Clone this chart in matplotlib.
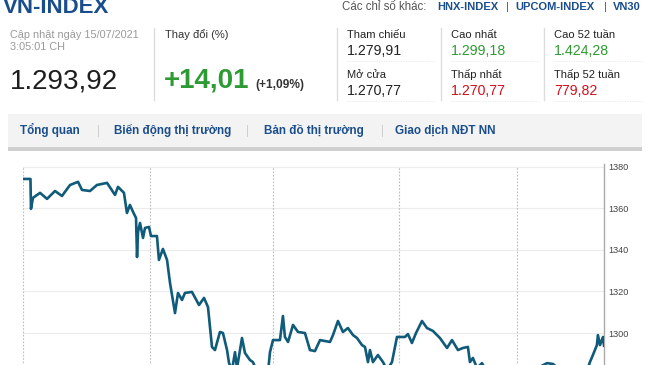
import matplotlib
matplotlib.use("Agg")
import matplotlib.pyplot as plt
from matplotlib.patches import Rectangle
from matplotlib.lines import Line2D

plt.rcParams['font.family'] = ['Liberation Sans', 'DejaVu Sans']

# ---------------- data ----------------
# x = session index (0 = start of first session), y = VN-INDEX points
t = [0.000, 0.060, 0.064, 0.080, 0.137, 0.193, 0.257, 0.313, 0.378, 0.442,
     0.474, 0.538, 0.594, 0.675, 0.739, 0.763, 0.811, 0.835, 0.859, 0.884,
     0.908, 0.916, 0.924, 0.940, 0.964, 0.980, 1.012, 1.028, 1.076, 1.092,
     1.124, 1.157, 1.181, 1.221, 1.245, 1.277, 1.301, 1.357, 1.414, 1.454,
     1.486, 1.518, 1.542, 1.582, 1.606, 1.639, 1.655, 1.679, 1.703, 1.719,
     1.759, 1.783, 1.823, 1.847, 1.880, 1.920, 1.968, 1.984, 2.008, 2.064,
     2.088, 2.104, 2.129, 2.169, 2.209, 2.265, 2.305, 2.345, 2.386, 2.466,
     2.490, 2.530, 2.570, 2.610, 2.651, 2.683, 2.723, 2.747, 2.771, 2.787,
     2.811, 2.851, 2.892, 2.924, 2.964, 2.988, 3.004, 3.068, 3.092, 3.124,
     3.157, 3.205, 3.245, 3.293, 3.349, 3.406, 3.446, 3.494, 3.534, 3.574,
     3.590, 3.614, 3.647, 3.687, 3.727, 3.831, 3.952, 4.072, 4.209, 4.257,
     4.313, 4.434, 4.538, 4.554, 4.578, 4.610, 4.618, 4.635, 4.659, 4.667]

index_values = [
    1374.2, 1374.2, 1359.8, 1365.1, 1367.5, 1364.6, 1368.4, 1366.0, 1371.3, 1372.8,
    1368.9, 1368.4, 1371.3, 1372.3, 1366.5, 1370.4, 1367.5, 1357.8, 1361.7, 1358.3,
    1355.4, 1336.6, 1348.7, 1353.0, 1345.8, 1350.6, 1351.1, 1346.7, 1346.7, 1335.2,
    1340.5, 1335.2, 1324.1, 1309.6, 1319.3, 1315.9, 1319.3, 1319.8, 1313.5, 1316.9,
    1312.5, 1293.3, 1291.8, 1300.5, 1300.0, 1291.8, 1285.5, 1282.2, 1290.8, 1283.1,
    1297.6, 1290.4, 1287.0, 1286.0, 1281.2, 1279.8, 1281.2, 1290.8, 1296.6, 1296.6,
    1308.2, 1298.1, 1295.7, 1303.9, 1300.5, 1300.0, 1291.8, 1291.3, 1296.6, 1295.7,
    1299.0, 1305.8, 1300.5, 1302.4, 1299.0, 1297.6, 1294.2, 1293.3, 1286.0, 1291.8,
    1286.0, 1289.4, 1286.0, 1282.2, 1286.0, 1293.3, 1298.1, 1298.1, 1299.5, 1295.2,
    1300.0, 1305.8, 1302.4, 1301.0, 1297.6, 1292.8, 1296.6, 1291.8, 1292.8, 1293.3,
    1286.0, 1288.0, 1283.1, 1285.5, 1281.2, 1278.3, 1279.8, 1281.2, 1285.5, 1285.1,
    1282.2, 1281.2, 1283.1, 1286.0, 1289.4, 1294.2, 1299.0, 1294.2, 1298.1, 1293.9]

session_starts = [0, 1.02, 2.01, 3.02, 3.97]
y_ticks = [1300, 1320, 1340, 1360, 1380]

stat_labels = [["Tham chiếu", "Mở cửa"], ["Cao nhất", "Thấp nhất"], ["Cao 52 tuần", "Thấp 52 tuần"]]
stat_values = [["1.279,91", "1.270,77"], ["1.299,18", "1.270,77"], ["1.424,28", "779,82"]]
stat_colors = [["#222222", "#222222"], ["#2e9a33", "#d0101b"], ["#2e9a33", "#d0101b"]]
nav_items = ["Tổng quan", "Biến động thị trường", "Bản đồ thị trường", "Giao dịch NĐT NN"]

BLUE = "#1a4d8c"
GREEN = "#2e9a33"
LINE = "#105a7a"

W, H = 650, 365
fig = plt.figure(figsize=(W / 100, H / 100), dpi=100)
fig.patch.set_facecolor("white")


def px(x, y):
    # pixel position (from top-left) -> figure fraction
    return x / W, 1 - y / H


def txt(x, y, s, **kw):
    fx, fy = px(x, y)
    fig.text(fx, fy, s, va="baseline", **kw)


def hline(x0, x1, y, **kw):
    fig.add_artist(Line2D([x0 / W, x1 / W], [1 - y / H, 1 - y / H], transform=fig.transFigure, **kw))


def vline(x, y0, y1, **kw):
    fig.add_artist(Line2D([x / W, x / W], [1 - y0 / H, 1 - y1 / H], transform=fig.transFigure, **kw))


# ---------------- header ----------------
# title is cut at the top edge in the original screenshot
txt(3, 13, "VN-INDEX", fontsize=16, fontweight="bold", color=BLUE)
txt(342, 10, "Các chỉ số khác:", fontsize=8.3, color="#555555")
txt(437, 10, "HNX-INDEX", fontsize=8, fontweight="bold", color=BLUE)
txt(506, 10, "|", fontsize=8, color="#555555")
txt(515, 10, "UPCOM-INDEX", fontsize=8, fontweight="bold", color=BLUE)
txt(604, 10, "|", fontsize=8, color="#555555")
txt(613, 10, "VN30", fontsize=8, fontweight="bold", color=BLUE)

txt(10, 38, "Cập nhật ngày 15/07/2021", fontsize=7.8, color="#9a9a9a")
txt(10, 50, "3:05:01 CH", fontsize=7.8, color="#9a9a9a")
txt(10, 88, "1.293,92", fontsize=20, color="#1e1e1e")

vline(154, 28, 100, color="#dddddd", lw=1)
txt(165, 38, "Thay đổi (%)", fontsize=8, color="#333333")
txt(164, 88, "+14,01", fontsize=20, fontweight="bold", color=GREEN)
txt(255, 88, "(+1,09%)", fontsize=8.6, fontweight="bold", color="#333333")

col_x = [347, 451, 554]
for i, cx in enumerate(col_x):
    vline(cx - 10, 28, 100, color="#dddddd", lw=1)
    for j, (lab_y, val_y) in enumerate([(38, 55), (78, 95)]):
        txt(cx, lab_y, stat_labels[i][j], fontsize=8, color="#222222")
        txt(cx, val_y, stat_values[i][j], fontsize=10.2, color=stat_colors[i][j])
        hline(cx, cx + 88, val_y + 6, color="#e6e6e6", lw=0.7, ls=(0, (1, 1.5)))

# ---------------- nav bar ----------------
fig.add_artist(Rectangle(px(8, 147), 634 / W, 33 / H, transform=fig.transFigure,
                         facecolor="#f3f3f3", edgecolor="none"))
fig.add_artist(Rectangle(px(8, 151), 634 / W, 4 / H, transform=fig.transFigure,
                         facecolor="#cfcfcf", edgecolor="none"))
nav_x = [20, 114, 264, 395]
for nx, item in zip(nav_x, nav_items):
    txt(nx, 134, item, fontsize=8.4, fontweight="bold", color=BLUE)
for sx in [97, 246, 381]:
    txt(sx, 134, "|", fontsize=8.4, color="#cfcfcf")

# ---------------- chart ----------------
ax = fig.add_axes([23 / W, 0, 581 / W, 201 / H])
ax.set_xlim(0, 4.667)
ax.set_ylim(1284.6, 1381.4)

for yt in y_ticks:
    ax.axhline(yt, color="#ececec", lw=0.8, zorder=0)
ax.vlines(session_starts, 1270, 1380, colors="#bdbdbd", lw=0.8, linestyles=(0, (1.5, 1.5)), zorder=1)

ax.plot(t, index_values, color=LINE, lw=1.9, zorder=3)

for side in ["top", "bottom", "left"]:
    ax.spines[side].set_visible(False)
ax.spines["right"].set_color("#aaaaaa")
ax.spines["right"].set_linewidth(1)
ax.yaxis.tick_right()
ax.set_yticks(y_ticks)
ax.set_yticklabels([str(v) for v in y_ticks])
ax.tick_params(axis="y", length=0, pad=3, labelsize=6.6, labelcolor="#444444")
ax.set_xticks([])
ax.patch.set_alpha(0)

fig.savefig("out.png", dpi=100)
